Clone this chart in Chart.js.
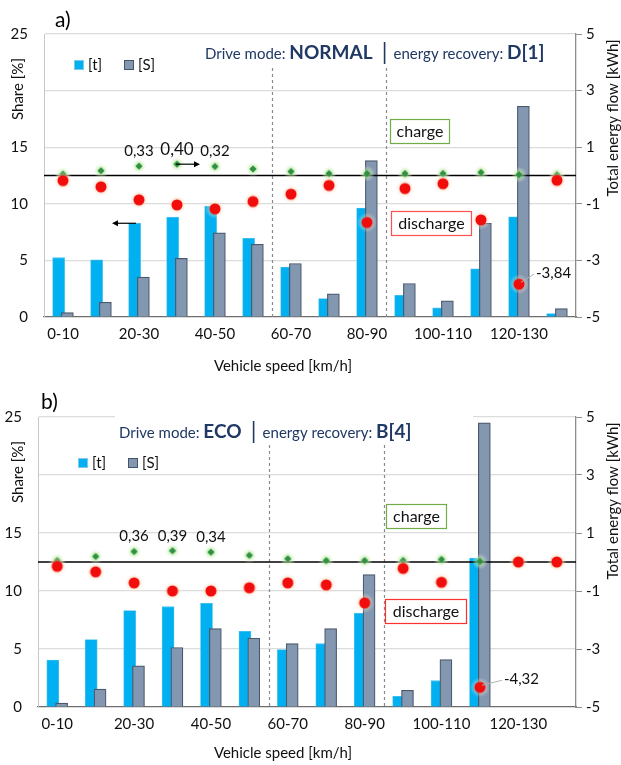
<!DOCTYPE html>
<html>
<head>
<meta charset="utf-8"/>
<title>Share and energy flow vs vehicle speed</title>
<script src="https://cdn.jsdelivr.net/npm/chart.js@4.4.0/dist/chart.umd.min.js"></script>
<style>
  body { margin: 0; background: #fff; }
  .panel { position: absolute; left: 0; width: 621px; }
</style>
</head>
<body>
<div class="panel" style="top:0;height:383px"><canvas id="chartA"></canvas></div>
<div class="panel" style="top:383px;height:382px"><canvas id="chartB"></canvas></div>
<script>
var speedLabels = ['0-10', '10-20', '20-30', '30-40', '40-50', '50-60', '60-70',
                   '70-80', '80-90', '90-100', '100-110', '110-120', '120-130', '130-140'];

// a) Drive mode NORMAL, energy recovery D[1]
var tShareA     = [5.24, 5.06, 8.28, 8.82, 9.79, 6.95, 4.41, 1.63, 9.62, 1.92, 0.80, 4.26, 8.85, 0.30];
var sShareA     = [0.38, 1.30, 3.52, 5.18, 7.43, 6.42, 4.73, 2.04, 13.82, 2.96, 1.42, 8.28, 18.61, 0.74];
var chargeA     = [0.05, 0.17, 0.33, 0.40, 0.32, 0.23, 0.14, 0.07, 0.07, 0.07, 0.07, 0.11, 0.03, 0.03];
var dischargeA  = [-0.18, -0.40, -0.86, -1.04, -1.18, -0.92, -0.66, -0.35, -1.66, -0.46, -0.29, -1.57, -3.84, -0.17];

// b) Drive mode ECO, energy recovery B[4]
var tShareB     = [4.04, 5.82, 8.31, 8.65, 8.94, 6.53, 4.96, 5.46, 8.07, 0.92, 2.27, 12.84, 0, 0];
var sShareB     = [0.34, 1.55, 3.55, 5.13, 6.76, 5.93, 5.47, 6.75, 11.41, 1.44, 4.08, 24.5, 0, 0];
var chargeB     = [0.05, 0.19, 0.36, 0.39, 0.34, 0.23, 0.11, 0.05, 0.05, 0.05, 0.09, 0.02, 0, 0];
var dischargeB  = [-0.15, -0.34, -0.72, -1.00, -1.00, -0.89, -0.72, -0.79, -1.41, -0.22, -0.70, -4.32, 0, 0];

var shareTicks = [0, 5, 10, 15, 20, 25];
var energyTicks = [-5, -3, -1, 1, 3, 5];

var FONT = 'Lato, "Open Sans", sans-serif';
var NAVY = '#1F3864';
var BLUE = '#00B0F0';
var GRAY = '#8497B0';

// point look: dot with soft halo
function glowDot(core, glow, r, R, diamond) {
  var c = document.createElement('canvas');
  var s = Math.ceil(R * 2) + 2;
  c.width = c.height = s;
  var g = c.getContext('2d'), m = s / 2;
  var grad = g.createRadialGradient(m, m, r * 0.5, m, m, R);
  grad.addColorStop(0, glow);
  grad.addColorStop(1, 'rgba(255,255,255,0)');
  g.fillStyle = grad;
  g.beginPath(); g.arc(m, m, R, 0, Math.PI * 2); g.fill();
  g.fillStyle = core;
  g.beginPath();
  if (diamond) {
    g.moveTo(m, m - r); g.lineTo(m + r, m); g.lineTo(m, m + r); g.lineTo(m - r, m); g.closePath();
  } else {
    g.arc(m, m, r, 0, Math.PI * 2);
  }
  g.fill();
  return c;
}
var redDot = glowDot('#F20D0D', 'rgba(248,150,90,0.75)', 5.5, 10, false);
var greenDot = glowDot('#2E8F45', 'rgba(150,225,110,0.8)', 3.6, 8, true);

function arrow(ctx, x1, y1, x2, y2) {
  var dir = x2 > x1 ? 1 : -1;
  ctx.beginPath(); ctx.moveTo(x1, y1); ctx.lineTo(x2 - dir * 4, y2); ctx.stroke();
  ctx.beginPath(); ctx.moveTo(x2, y2); ctx.lineTo(x2 - dir * 6, y2 - 3); ctx.lineTo(x2 - dir * 6, y2 + 3); ctx.closePath(); ctx.fill();
}

function decor(p) {
  return {
    id: 'decor',
    beforeDatasetsDraw: function (chart) {
      var ctx = chart.ctx, x = chart.scales.x, a = chart.chartArea;
      ctx.save();
      ctx.strokeStyle = '#8a8a8a'; ctx.lineWidth = 1.2; ctx.setLineDash([3, 3]);
      [5.5, 8.5].forEach(function (v) {
        var px = Math.round(x.getPixelForValue(v)) + 0.5;
        ctx.beginPath(); ctx.moveTo(px, p.dividerTop); ctx.lineTo(px, a.bottom); ctx.stroke();
      });
      ctx.restore();
    },
    afterDraw: function (chart) {
      var ctx = chart.ctx, x = chart.scales.x, y = chart.scales.y, y2 = chart.scales.y2, a = chart.chartArea;
      ctx.save();
      ctx.textBaseline = 'middle';

      // panel tag
      ctx.fillStyle = '#000'; ctx.font = '21px ' + FONT; ctx.textAlign = 'left';
      ctx.fillText(p.tag, p.tagX, p.tagY);

      // title line
      var parts = [['Drive mode: ', false], [p.mode, true], ['|', 'bar'], ['energy recovery: ', false], [p.recovery, true]];
      ctx.font = '15px ' + FONT;
      var tx = p.titleX;
      if (p.titleMask) {
        ctx.fillStyle = '#fff';
        ctx.fillRect(p.titleMask[0], a.top - 3, p.titleMask[1] - p.titleMask[0], 6);
      }
      ctx.fillStyle = NAVY; ctx.strokeStyle = NAVY;
      parts.forEach(function (pt) {
        if (pt[1] === 'bar') {
          ctx.lineWidth = 1.6;
          ctx.beginPath(); ctx.moveTo(tx + 6, p.titleY - 11); ctx.lineTo(tx + 6, p.titleY + 11); ctx.stroke();
          tx += 15;
          return;
        }
        ctx.font = (pt[1] ? 'bold 19px ' : '15px ') + FONT;
        ctx.fillText(pt[0], tx, p.titleY + (pt[1] ? 0 : 1));
        tx += ctx.measureText(pt[0]).width + (pt[1] ? 6 : 0);
      });

      // legend
      ctx.font = '15px ' + FONT; ctx.lineWidth = 1;
      ctx.fillStyle = BLUE; ctx.fillRect(p.legX, p.legY - 5, 10, 10);
      ctx.strokeStyle = '#7fc9e6'; ctx.strokeRect(p.legX + 0.5, p.legY - 4.5, 9, 9);
      ctx.fillStyle = GRAY; ctx.fillRect(p.legX + 50, p.legY - 5, 10, 10);
      ctx.strokeStyle = '#44546A'; ctx.strokeRect(p.legX + 50.5, p.legY - 4.5, 9, 9);
      ctx.fillStyle = '#111';
      ctx.fillText('[t]', p.legX + 14, p.legY);
      ctx.fillText('[S]', p.legX + 64, p.legY);

      // axis titles
      ctx.textAlign = 'center';
      ctx.fillText('Vehicle speed [km/h]', 283, p.xTitleY);
      ctx.save(); ctx.translate(18, a.top + 55); ctx.rotate(-Math.PI / 2);
      ctx.fillText('Share [%]', 0, 0); ctx.restore();
      ctx.save(); ctx.translate(613, a.top + 84); ctx.rotate(-Math.PI / 2);
      ctx.fillText('Total energy flow [kWh]', 0, 0); ctx.restore();

      // charge values above the highest green points
      p.valueIdx.forEach(function (i, k) {
        ctx.font = p.valueSizes[k] + 'px ' + FONT;
        ctx.fillText(p.charge[i].toFixed(2).replace('.', ','),
          x.getPixelForValue(i), y2.getPixelForValue(p.charge[i]) - 15);
      });

      // minimum discharge with leader
      var mi = p.minIdx, mx = x.getPixelForValue(mi), my = y2.getPixelForValue(p.discharge[mi]);
      ctx.strokeStyle = '#b0b0b0'; ctx.lineWidth = 1;
      ctx.beginPath(); ctx.moveTo(mx + 2, my - 2); ctx.lineTo(mx + p.minDx - 2, my + p.minDy + 1); ctx.stroke();
      ctx.textAlign = 'left'; ctx.font = '15px ' + FONT; ctx.fillStyle = '#111';
      ctx.fillText(p.discharge[mi].toFixed(2).replace('.', ','), mx + p.minDx, my + p.minDy);

      // axis arrows
      if (p.arrows) {
        ctx.strokeStyle = '#000'; ctx.fillStyle = '#000'; ctx.lineWidth = 1.2;
        var gx = x.getPixelForValue(3), gy = y2.getPixelForValue(p.charge[3]);
        arrow(ctx, gx - 1, gy, gx + 23, gy);
        var bx = x.getPixelForValue(2), by = y.getPixelForValue(p.tShare[2]);
        arrow(ctx, bx - 3, by, bx - 27, by);
      }

      // charge / discharge boxes
      ctx.textAlign = 'center'; ctx.font = '16px ' + FONT; ctx.lineWidth = 1.2;
      p.boxes.forEach(function (b) {
        ctx.fillStyle = '#fff'; ctx.fillRect(b.x, b.y, b.w, b.h);
        ctx.strokeStyle = b.color; ctx.strokeRect(b.x + 0.5, b.y + 0.5, b.w, b.h);
        ctx.fillStyle = '#111'; ctx.fillText(b.text, b.x + b.w / 2 + 0.5, b.y + b.h / 2 + 1);
      });
      ctx.restore();
    }
  };
}

function makeChart(id, tShare, sShare, charge, discharge, leftWidth, xHeight, p) {
  p.charge = charge; p.discharge = discharge; p.tShare = tShare;
  var tickFont = { family: FONT, size: 15 };
  return new Chart(document.getElementById(id), {
    type: 'bar',
    data: {
      datasets: [
        { type: 'line', label: 'discharge', yAxisID: 'y2', order: 0, showLine: false,
          data: discharge.map(function (v, i) { return { x: i, y: v }; }),
          pointStyle: redDot, pointRadius: 5 },
        { type: 'line', label: 'charge', yAxisID: 'y2', order: 1, showLine: false,
          data: charge.map(function (v, i) { return { x: i, y: v }; }),
          pointStyle: greenDot, pointRadius: 5 },
        { type: 'line', label: 'zero', yAxisID: 'y2', order: 2,
          data: [{ x: -0.5, y: 0 }, { x: 13.5, y: 0 }],
          borderColor: '#000', borderWidth: 1.3, pointRadius: 0 },
        { label: '[S]', yAxisID: 'y', order: 3, grouped: false, barThickness: 12,
          data: sShare.map(function (v, i) { return { x: i + 0.115, y: v }; }),
          backgroundColor: GRAY, borderColor: '#4a586c', borderWidth: 1.2, borderSkipped: 'start' },
        { label: '[t]', yAxisID: 'y', order: 4, grouped: false, barThickness: 12,
          data: tShare.map(function (v, i) { return { x: i - 0.115, y: v }; }),
          backgroundColor: BLUE, borderColor: '#4cc3ef', borderWidth: 0.8, borderSkipped: 'start' }
      ]
    },
    options: {
      responsive: true,
      maintainAspectRatio: false,
      animation: false,
      layout: { padding: { top: 34, left: 0, right: 0, bottom: 0 } },
      plugins: { legend: { display: false }, tooltip: { enabled: false } },
      scales: {
        x: {
          type: 'linear', min: -0.5, max: 13.5, offset: false,
          afterBuildTicks: function (s) { s.ticks = speedLabels.map(function (l, i) { return { value: i }; }); },
          afterFit: function (s) { s.height = xHeight; },
          ticks: { autoSkip: false, maxRotation: 0, padding: 8, color: '#111', font: tickFont,
                   callback: function (v) { return v % 2 === 0 ? speedLabels[v] : ''; } },
          grid: { display: false, drawTicks: false },
          border: { color: '#6e6e6e', width: 1.3 }
        },
        y: {
          position: 'left', min: 0, max: 25,
          afterBuildTicks: function (s) { s.ticks = shareTicks.map(function (v) { return { value: v }; }); },
          afterFit: function (s) { s.width = leftWidth; },
          ticks: { padding: 16, color: '#111', font: tickFont,
                   callback: function (v) { return v === 20 ? '' : v; } },
          grid: { drawTicks: false, lineWidth: 1.2,
                  color: function (c) { return c.tick && c.tick.value === 0 ? 'rgba(0,0,0,0)' : '#dcdcdc'; } },
          border: { color: '#c8c8c8' }
        },
        y2: {
          position: 'right', min: -5, max: 5,
          afterBuildTicks: function (s) { s.ticks = energyTicks.map(function (v) { return { value: v }; }); },
          afterFit: function (s) { s.width = 45; },
          ticks: { padding: 4, color: '#111', font: tickFont },
          grid: { drawOnChartArea: false, tickLength: 6, color: '#8c8c8c' },
          border: { color: '#8c8c8c', width: 1.3 }
        }
      }
    },
    plugins: [decor(p)]
  });
}

makeChart('chartA', tShareA, sShareA, chargeA, dischargeA, 44, 66, {
  tag: 'a)', tagX: 55, tagY: 20,
  mode: 'NORMAL', recovery: 'D[1]', titleX: 205, titleY: 53, titleMask: null,
  legX: 74, legY: 65, xTitleY: 366, dividerTop: 68,
  valueIdx: [2, 3, 4], valueSizes: [15, 17, 15],
  minIdx: 12, minDx: 17, minDy: -11, arrows: true,
  boxes: [
    { text: 'charge', x: 390, y: 119, w: 59, h: 24, color: '#70AD47' },
    { text: 'discharge', x: 391, y: 211, w: 80, h: 24, color: '#FF5050' }
  ]
});

makeChart('chartB', tShareB, sShareB, chargeB, dischargeB, 38, 58, {
  tag: 'b)', tagX: 41, tagY: 19,
  mode: 'ECO', recovery: 'B[4]', titleX: 119, titleY: 49, titleMask: [115, 473],
  legX: 78, legY: 80, xTitleY: 370, dividerTop: 62,
  valueIdx: [2, 3, 4], valueSizes: [15, 15, 15],
  minIdx: 11, minDx: 24, minDy: -8, arrows: false,
  boxes: [
    { text: 'charge', x: 386, y: 121, w: 60, h: 24, color: '#70AD47' },
    { text: 'discharge', x: 385, y: 216, w: 81, h: 24, color: '#FF3030' }
  ]
});
</script>
</body>
</html>
